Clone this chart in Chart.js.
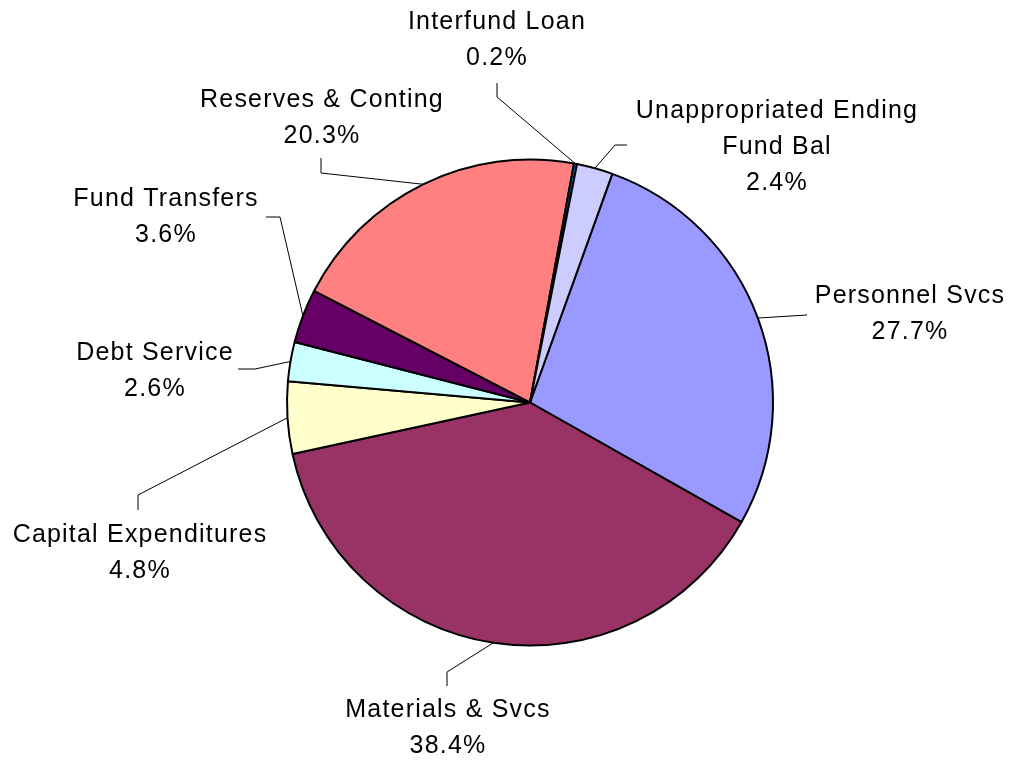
<!DOCTYPE html>
<html>
<head>
<meta charset="utf-8">
<script src="https://cdn.jsdelivr.net/npm/chart.js@4/dist/chart.umd.min.js"></script>
<style>
	html, body { margin: 0; padding: 0; background: #fff; }
	#wrap { width: 1013px; height: 761px; }
</style>
</head>
<body>
<div id="wrap"><canvas id="pieChart" width="1013" height="761"></canvas></div>
<script>
const categorias = [
	"Personnel Svcs",
	"Materials & Svcs",
	"Capital Expenditures",
	"Debt Service",
	"Fund Transfers",
	"Reserves & Conting",
	"Interfund Loan",
	["Unappropriated Ending", "Fund Bal"]
];
const valores = [27.7, 38.4, 4.8, 2.6, 3.6, 20.3, 0.2, 2.4];
const colores = ["#9999FF", "#993366", "#FFFFCC", "#CCFFFF", "#660066", "#FF8080", "#0066CC", "#CCCCFF"];

// posicion de cada etiqueta relativa al centro de la torta:
// l = centro de la primera linea, b = codo de la linea guia, e = final de la linea guia
const posEtiquetas = [
	{ l: [380, -106.5], e: [277, -87.5] },
	{ l: [-82, 307.5], b: [-83, 269.5], e: [-83, 283.5] },
	{ l: [-390, 132.5], b: [-392, 92.5], e: [-392, 107.5] },
	{ l: [-375, -49.5], b: [-275, -33.5], e: [-292, -33.5] },
	{ l: [-364, -203.5], b: [-250, -185.5], e: [-264, -185.5] },
	{ l: [-208, -302.5], b: [-209, -229.5], e: [-209, -244.5] },
	{ l: [-33, -380.5], b: [-33, -305.5], e: [-33, -319.5] },
	{ l: [247, -291.5], b: [85, -257.5], e: [97, -257.5] }
];

const etiquetas = {
	id: "etiquetas",
	afterDatasetsDraw(chart) {
		const ctx = chart.ctx;
		const meta = chart.getDatasetMeta(0);
		ctx.save();
		ctx.strokeStyle = "#000";
		ctx.lineWidth = 1;
		ctx.fillStyle = "#000";
		ctx.font = "25px 'Liberation Sans', Arial, sans-serif";
		ctx.letterSpacing = "1.2px";
		ctx.textAlign = "center";
		ctx.textBaseline = "middle";
		meta.data.forEach((arc, i) => {
			const p = arc.getProps(["x", "y", "startAngle", "endAngle", "outerRadius"], true);
			const medio = (p.startAngle + p.endAngle) / 2;
			const pos = posEtiquetas[i];
			const rx = p.x + p.outerRadius * Math.cos(medio);
			const ry = p.y + p.outerRadius * Math.sin(medio);
			ctx.beginPath();
			ctx.moveTo(rx, ry);
			if (pos.b) ctx.lineTo(p.x + pos.b[0], p.y + pos.b[1]);
			ctx.lineTo(p.x + pos.e[0], p.y + pos.e[1]);
			ctx.stroke();

			const nombre = categorias[i];
			const lineas = (Array.isArray(nombre) ? nombre.slice() : [nombre]);
			lineas.push(valores[i].toFixed(1) + "%");
			lineas.forEach((t, k) => {
				ctx.fillText(t, p.x + pos.l[0], p.y + pos.l[1] + k * 36);
			});
		});
		ctx.restore();
	}
};

const ctx = document.getElementById("pieChart").getContext("2d");
new Chart(ctx, {
	type: "pie",
	data: {
		labels: categorias,
		datasets: [{
			data: valores,
			backgroundColor: colores,
			borderColor: "#000",
			borderWidth: 2,
			radius: 243
		}]
	},
	options: {
		responsive: false,
		animation: false,
		rotation: 19.8,
		layout: { padding: { left: 47, right: 0, top: 44, bottom: 0 } },
		plugins: {
			legend: { display: false },
			tooltip: { enabled: false },
			title: { display: false }
		}
	},
	plugins: [etiquetas]
});
</script>
</body>
</html>
